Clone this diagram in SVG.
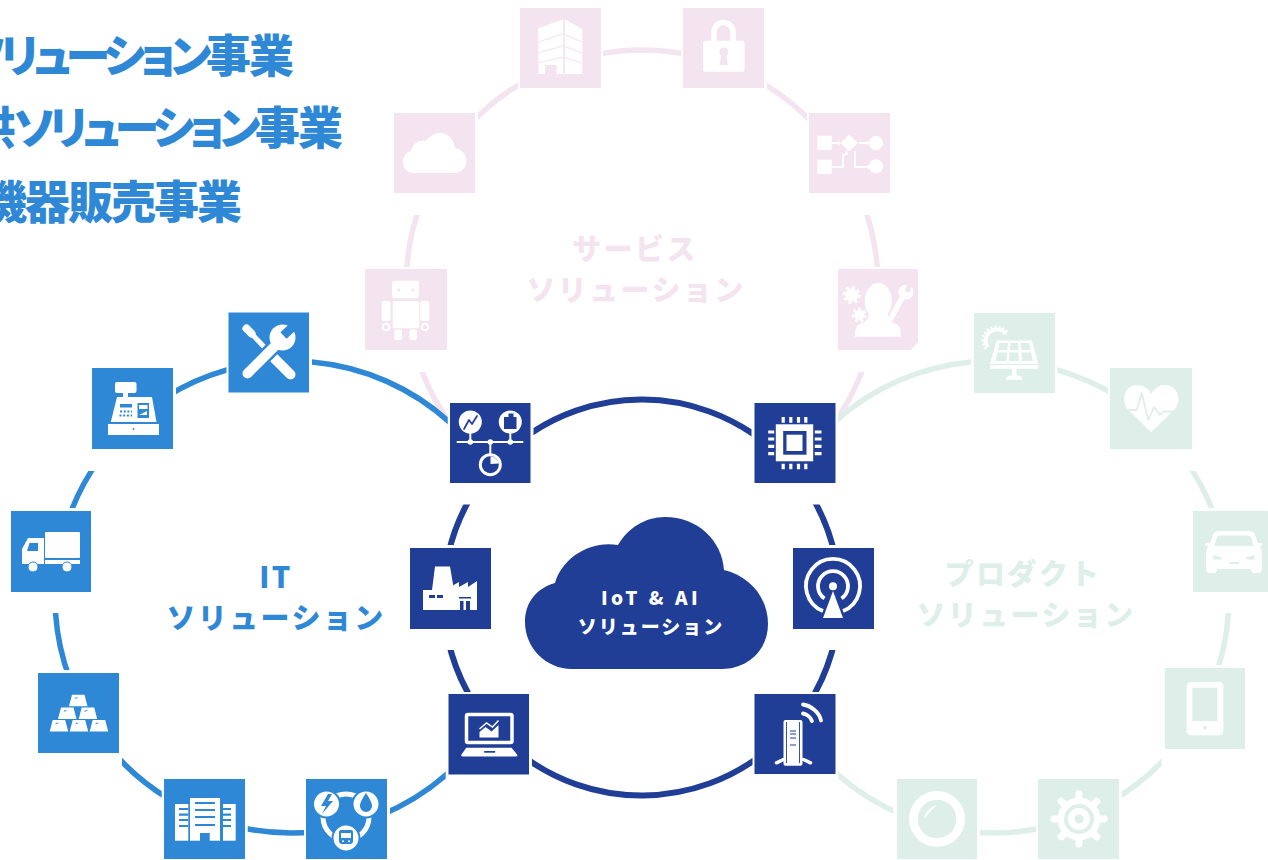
<svg xmlns="http://www.w3.org/2000/svg" width="1268" height="860" viewBox="0 0 1268 860">
<style>
text{font-family:"Noto Sans CJK JP","Noto Sans",sans-serif;font-weight:900}
.it{color:#2e88d6}.iot{color:#203e96}.svc{color:#f3e4f0}.prod{color:#deefe9}
.t,.c{fill:currentColor}.w{fill:#fff}
.ws{fill:none;stroke:#fff}.cs{fill:none;stroke:currentColor}
.rl{stroke-linecap:round;stroke-linejoin:round}
.ring{fill:none;stroke:currentColor;stroke-width:5.500}
.iot .ring{stroke-width:6}
.head{fill:#2e88d6;font-size:45px;font-feature-settings:"palt";text-anchor:end}
.lab{fill:currentColor;font-size:29px;text-anchor:middle;letter-spacing:2.400px}
.lab2{fill:#fff;font-size:19px;text-anchor:middle;letter-spacing:2px}
</style>
<defs>
<clipPath id="clip-svc">
<rect x="395" y="215" width="40" height="52"/><rect x="478" y="75" width="40" height="55"/><rect x="603" y="40" width="78" height="30"/><rect x="767" y="75" width="40" height="55"/><rect x="850" y="215" width="40" height="52"/><rect x="838" y="372" width="45" height="48"/><rect x="405" y="372" width="42.700" height="60"/>
</clipPath>
<clipPath id="clip-prod">
<rect x="838" y="355" width="133" height="70"/><rect x="1057.300" y="355" width="50.700" height="50"/><rect x="1175" y="471" width="50" height="37"/><rect x="1205" y="613" width="35" height="52"/><rect x="1121.700" y="750" width="40" height="55"/><rect x="980" y="815" width="56" height="25"/><rect x="838.300" y="760" width="55" height="60"/>
</clipPath>
<clipPath id="clip-it">
<rect x="312" y="350" width="135.700" height="85"/><rect x="176" y="360" width="50.500" height="40"/><rect x="60" y="471" width="45" height="37"/><rect x="45" y="613" width="35" height="57"/><rect x="122" y="750" width="39.700" height="52"/><rect x="247.700" y="815" width="56.300" height="25"/><rect x="390" y="765" width="55.700" height="55"/>
</clipPath>
<clipPath id="clip-iot">
<rect x="533.500" y="395" width="218" height="50"/><rect x="440" y="504.500" width="40" height="40.500"/><rect x="440" y="650" width="40" height="42"/><rect x="532" y="750" width="220.500" height="55"/><rect x="800" y="650" width="45" height="42"/><rect x="800" y="504.500" width="45" height="40.500"/>
</clipPath>
<g id="bar"><path class="w" d="M3 0H15.500L18.500 11.500H0Z"/><path class="c" d="M5.500 4.500L9.500 2.700H6.500Z"/></g>
<g id="tooth"><rect x="-3.500" y="-28.500" width="7" height="12" rx="3" class="w"/></g>
</defs>

<text class="head" x="292" y="73" letter-spacing="-2"><tspan letter-spacing="-5.500">ソリューション</tspan>事業</text>
<text class="head" x="341" y="145" letter-spacing="-2">提供<tspan letter-spacing="-5.500">ソリューション</tspan>事業</text>
<text class="head" x="240" y="219" letter-spacing="-2">機器販売事業</text>

<g id="connectors">
<g class="svc" clip-path="url(#clip-svc)">
<path class="ring" d="M406.300 275A236 236 0 0 1 420.300 205"/>
<path class="ring" d="M470 124.400A236 236 0 0 1 530 78.300"/>
<path class="ring" d="M595 54.700A236 236 0 0 1 690 54.900"/>
<path class="ring" d="M755 78.800A236 236 0 0 1 815 125.500"/>
<path class="ring" d="M863.700 205A236 236 0 0 1 877.700 275"/>
<path class="ring" d="M864.400 365A236 236 0 0 1 829 430"/>
<path class="ring" d="M455 430A236 236 0 0 1 419.600 365"/>
</g>
<g class="prod" clip-path="url(#clip-prod)">
<path class="ring" d="M825 431.300A236 236 0 0 1 985 361.100"/>
<path class="ring" d="M1045 366.800A236 236 0 0 1 1120 398.100"/>
<path class="ring" d="M1185.200 460A236 236 0 0 1 1216.100 520"/>
<path class="ring" d="M1229 600A236 236 0 0 1 1213.900 680"/>
<path class="ring" d="M1170 753.100A236 236 0 0 1 1110 802"/>
<path class="ring" d="M1045 827.200A236 236 0 0 1 970 831.900"/>
<path class="ring" d="M905 816A236 236 0 0 1 825 762.700"/>
</g>
<g class="it" clip-path="url(#clip-it)">
<path class="ring" d="M300 361.200A236 236 0 0 1 460 432.300"/>
<path class="ring" d="M165 397.500A236 236 0 0 1 240 366.600"/>
<path class="ring" d="M67.900 520A236 236 0 0 1 98.800 460"/>
<path class="ring" d="M70.100 680A236 236 0 0 1 55 600"/>
<path class="ring" d="M115 754.200A236 236 0 0 0 170 799.600"/>
<path class="ring" d="M240 827.400A236 236 0 0 0 315 831.800"/>
<path class="ring" d="M380 815.600A236 236 0 0 0 455 766.700"/>
</g>
<g class="iot" clip-path="url(#clip-iot)">
<path class="ring" d="M520 441.200A198 198 0 0 1 765 442.700"/>
<path class="ring" d="M472.100 495A198 198 0 0 0 448.100 555"/>
<path class="ring" d="M448.100 640A198 198 0 0 0 472.100 700"/>
<path class="ring" d="M520 753.800A198 198 0 0 0 765 752.300"/>
<path class="ring" d="M810.900 700A198 198 0 0 0 834.900 640"/>
<path class="ring" d="M834.900 555A198 198 0 0 0 810.900 495"/>
</g>
</g>

<g id="label-service" class="svc"><text class="lab" x="635" y="260">サービス</text><text class="lab" x="636" y="301">ソリューション</text></g>
<g id="label-product" class="prod"><text class="lab" x="1023" y="585">プロダクト</text><text class="lab" x="1026" y="626">ソリューション</text></g>
<g id="label-it" class="it"><text class="lab" x="276" y="588">IT</text><text class="lab" x="276" y="629">ソリューション</text></g>

<g id="cloud-center" class="iot">
<path class="c" d="M572 669C546 669 525 648 525 622C525 602 537 588 555 583C562 558 590 540 618 545C628 528 645 517 665 517C697 517 722 540 724 570C750 576 768 598 768 624C768 650 748 669 722 669Z"/>
<text class="lab2" x="651" y="605" style="letter-spacing:3.500px">IoT &amp; AI</text><text class="lab2" x="651" y="634">ソリューション</text>
</g>

<!-- Service -->
<g id="svc-building" class="svc" transform="translate(520 8)"><rect class="t" width="81" height="80"/>
<path class="w" d="M18.300 20.300L43.300 11.300V66H18.300ZM45 11.300L62.300 21.300V66H45Z"/>
<path class="cs" stroke-width="1.200" d="M18 34L43.300 26L62 34M18 45L43.300 38L62 45M18 55L43.300 49L62 55"/><rect class="c" x="25" y="57" width="11.700" height="9"/></g>
<g id="svc-lock" class="svc" transform="translate(683 8)"><rect class="t" width="81" height="80"/>
<path class="ws" stroke-width="5.500" d="M31 33V24A9.500 9.500 0 0 1 50 24V33"/><rect class="w" x="20" y="32.700" width="41.500" height="31" rx="2"/>
<circle class="c" cx="40.700" cy="44" r="4.500"/><path class="c" d="M38.500 46H43L45 57H36.500Z"/></g>
<g id="svc-flow" class="svc" transform="translate(809 113)"><rect class="t" width="81" height="80"/>
<path class="w" d="M8.300 22.700H22.700V37H8.300ZM8.300 46.700H22.700V61H8.300ZM40.300 21.500L49 30L40.300 38.500L31.800 30Z"/><circle class="w" cx="67" cy="30" r="7"/><circle class="w" cx="67" cy="53.300" r="7"/>
<path class="ws" stroke-width="1.800" d="M22 30H29M50 30H58M22 54H34V42H36.500M46 38V54H59"/><path class="w" d="M29 27.500L32 30L29 32.500ZM57.500 27.500L60.500 30L57.500 32.500ZM58.500 51.500L61 54L58.500 56.500ZM35 41L38 37L39 42Z"/></g>
<g id="svc-support" class="svc" transform="translate(838 269)"><path class="t" d="M0 0H80V73L73 81H0Z"/>
<ellipse class="w" cx="40.300" cy="32" rx="13.500" ry="18"/><path class="w" d="M31 44H50C50 52 54 53 58 55C62 57 63 60 63 67.700H17C17 60 18 57 22 55C26 53 31 52 31 44Z"/>
<circle class="w" cx="13.700" cy="26" r="6.500"/><circle class="ws" cx="13.700" cy="26" r="7.500" stroke-width="3" stroke-dasharray="3 2.900"/>
<circle class="w" cx="21.300" cy="46" r="5"/><circle class="ws" cx="21.300" cy="46" r="6" stroke-width="3" stroke-dasharray="2.800 2.500"/>
<path class="ws" stroke-width="5.500" d="M52 51L65 27"/><circle class="w" cx="68" cy="23" r="7.500"/><path class="cs" stroke-width="5" d="M69 23L73 13"/></g>
<g id="svc-cloud" class="svc" transform="translate(394 113)"><rect class="t" width="81" height="80"/>
<path class="w" d="M20 60C12 60 9 54 9 49C9 43 13 39 17 38C19 30 26 26 32 28C36 22 42 20 46 20C55 20 60 27 61 35C68 36 72.300 42 72.300 48C72.300 55 67 60 60 60Z"/></g>
<g id="svc-robot" class="svc" transform="translate(365 269)"><rect class="t" width="82" height="81"/>
<rect class="w" x="27" y="11.700" width="27" height="17.600" rx="2.500"/><circle class="c" cx="33.700" cy="21" r="1.500"/><circle class="c" cx="48" cy="21" r="1.500"/>
<rect class="w" x="27.700" y="32" width="26.600" height="27.300" rx="2"/><rect class="w" x="16.700" y="32" width="8.700" height="20" rx="2"/><rect class="w" x="55.300" y="32" width="9" height="20" rx="2"/>
<circle class="ws" cx="21" cy="58" r="3.300" stroke-width="2"/><circle class="ws" cx="60" cy="58" r="3.300" stroke-width="2"/>
<rect class="w" x="29.300" y="60.500" width="7.700" height="10.500" rx="2"/><rect class="w" x="44.300" y="60.500" width="7.700" height="10.500" rx="2"/></g>

<!-- Product -->
<g id="prod-solar" class="prod" transform="translate(974 313)"><rect class="t" width="81" height="80"/>
<path class="ws" stroke-width="3.500" d="M32 21A9.500 9.500 0 1 0 14 34"/><path class="ws" stroke-width="3" stroke-dasharray="2 2" d="M33 19A12.500 12.500 0 1 0 12 36"/>
<path class="cs" stroke-width="2" d="M22 27.500L15 50"/>
<path class="w" d="M22.700 27.500H57.700L64.300 50.700H16ZM16 52H64.300V55.700H16ZM38 55H42.500V63H38ZM32 66.700C32 63 36 62 40 62C44.500 62 48.300 63 48.300 66.700Z"/>
<path class="c" d="M25.500 30H34L33.300 37H24ZM36.500 30H44L44.500 37H36ZM46.500 30H55L56.500 37H47.500ZM23.500 39.500H33L32.500 48H21.500ZM35.500 39.500H44.500L45 48H35ZM47.500 39.500H57L59 48H48Z"/></g>
<g id="prod-heart" class="prod" transform="translate(1110 368)"><rect class="t" width="82" height="81"/>
<path class="w" d="M41.300 64.300L17.500 41C11 33 14 17 27.300 17C34 17 39 21 41.300 26C43.600 21 49 17 55 17C68 17 72 33 65 41Z"/>
<path class="cs rl" stroke-width="1.800" d="M12 42H26.700L31.700 25L38.300 52L44 39L50 47L53.300 43.500H71"/></g>
<g id="prod-car" class="prod" transform="translate(1193 511)"><rect class="t" width="80" height="81"/>
<path class="w" d="M26 20H56C59 20 61 21 62.500 25L65 32H68.500C70 32 70 35 68.500 35H66.500C68.500 38 69 40 69 44V56C69 59 68 62 66 62H61C59 62 58 60 58 58H24C24 60 23 62 21 62H16C14 62 13 59 13 56V44C13 40 13.500 38 15.500 35H13.500C12 35 12 32 13.500 32H17L19.500 25C21 21 23 20 26 20Z"/>
<path class="c" d="M27 24.500H55C57 24.500 58 26 58.500 27.500L60.500 35H21.500L23.500 27.500C24 26 25 24.500 27 24.500ZM20 44L29 46.500L28 48.500H21ZM62 44L53 46.500L54 48.500H61ZM36 51H46V53H36Z"/></g>
<g id="prod-tablet" class="prod" transform="translate(1165 668)"><rect class="t" width="80" height="81"/>
<rect class="w" x="21.700" y="14" width="36.600" height="53.300" rx="4"/><rect class="c" x="27.300" y="19.700" width="25" height="33.300"/><circle class="c" cx="40" cy="59.700" r="2"/></g>
<g id="prod-gear" class="prod" transform="translate(1038 779)"><rect class="t" width="81" height="80"/>
<g transform="translate(41 40)"><use href="#tooth"/><use href="#tooth" transform="rotate(45)"/><use href="#tooth" transform="rotate(90)"/><use href="#tooth" transform="rotate(135)"/><use href="#tooth" transform="rotate(180)"/><use href="#tooth" transform="rotate(225)"/><use href="#tooth" transform="rotate(270)"/><use href="#tooth" transform="rotate(315)"/>
<circle class="w" r="21.500"/><circle class="c" r="15"/><circle class="w" r="11"/><circle class="c" r="4.500"/></g></g>
<g id="prod-lens" class="prod" transform="translate(897 779)"><rect class="t" width="80" height="80"/>
<circle class="w" cx="40" cy="40" r="28"/><circle class="c" cx="40" cy="40" r="19.300"/><path class="w" d="M27 40C28 33 33 28 40 26C35 30 31 35 27 40Z"/></g>

<!-- IT -->
<g id="it-tools" class="it" transform="translate(228.500 312.500)"><rect class="t" width="80.500" height="80"/>
<path class="ws" stroke-width="5" d="M18 16L42 41"/><path class="ws rl" stroke-width="8" d="M18 16L23 21"/><path class="ws rl" stroke-width="10" d="M44 44L62 62"/>
<path class="cs" stroke-width="15" d="M19 61L47 33"/><path class="ws rl" stroke-width="10" d="M19 61L47 33"/><circle class="w" cx="54" cy="25" r="13"/><path class="cs" stroke-width="9" d="M55 23L68 11"/></g>
<g id="it-register" class="it" transform="translate(92 368)"><rect class="t" width="81" height="81"/>
<rect class="w" x="23" y="14" width="21.500" height="11" rx="2"/><rect class="w" x="31" y="24" width="5" height="6"/>
<path class="w" d="M25 29H60L64.500 54H18.800ZM16 56H67V67H16Z"/><rect class="c" x="28" y="36" width="12" height="3.500"/><rect class="c" x="45.500" y="35" width="11.500" height="15"/><path class="w" d="M47 37H55.500V41H47ZM47 47L55 43V47Z"/>
<path class="cs" stroke-width="2" stroke-dasharray="2 1.700" d="M28 43.500H40M27.500 47.500H40"/><circle class="c" cx="41.500" cy="61" r="0.900"/></g>
<g id="it-truck" class="it" transform="translate(11 511)"><rect class="t" width="80" height="81"/>
<rect class="w" x="34" y="21" width="35" height="26" rx="1"/><rect class="w" x="34" y="49" width="35" height="4"/>
<path class="w" d="M17 27H33V53H11V38Z"/><path class="c" d="M18.500 32H27V40H16Z"/>
<circle class="w" cx="22" cy="56" r="5" stroke="currentColor" stroke-width="1"/><circle class="w" cx="56" cy="56" r="5" stroke="currentColor" stroke-width="1"/></g>
<g id="it-gold" class="it" transform="translate(38 673)"><rect class="t" width="81" height="80"/>
<use href="#bar" x="31" y="21.700"/><use href="#bar" x="20" y="34.500"/><use href="#bar" x="40.700" y="34.500"/><use href="#bar" x="11.700" y="47"/><use href="#bar" x="31.700" y="47"/><use href="#bar" x="51.700" y="47"/></g>
<g id="it-building" class="it" transform="translate(164 779)"><rect class="t" width="81" height="80"/>
<rect class="w" x="26" y="19" width="30" height="42.700"/><rect class="w" x="11" y="25" width="13.300" height="36.700"/><rect class="w" x="59" y="25" width="12.700" height="36.700"/>
<path class="cs" stroke-width="2.200" d="M31 24H51M31 31H51M31 38H51M31 46H51M15 30H24.300M15 35.700H24.300M15 41H24.300M15 47H24.300M59 30H67M59 35.700H67M59 41H67M59 47H67"/><rect class="c" x="36" y="54" width="9.700" height="8"/></g>
<g id="it-energy" class="it" transform="translate(306 779)"><rect class="t" width="81" height="80"/>
<circle class="ws" cx="40" cy="38" r="23" stroke-width="5"/>
<circle class="w" cx="20.500" cy="25" r="13.500" stroke="currentColor" stroke-width="2"/><circle class="w" cx="60" cy="25" r="13.500" stroke="currentColor" stroke-width="2"/><circle class="w" cx="40" cy="59" r="13.500" stroke="currentColor" stroke-width="2"/>
<path class="c" d="M22 15L15 27H20L16 35L27 22H22L26 15Z"/><path class="c" d="M60 14C57 19 54 23 54 27C54 30 57 33 60 33C63 33 66 30 66 27C66 23 63 19 60 14Z"/>
<path class="c" d="M35 51H45C46.500 51 47 52 47 53.500V62C47 64 46 65 44 65H36C34 65 33 64 33 62V53.500C33 52 33.500 51 35 51Z"/><path class="w" d="M35 54H45V59H35ZM36 61.500H38V63H36ZM42 61.500H44V63H42Z"/></g>

<!-- IoT -->
<g id="iot-net" class="iot" transform="translate(450 403)"><rect class="t" width="80.500" height="80"/>
<path class="ws" stroke-width="2" d="M6.700 39H73.300M20.300 19V39M60.300 19V39M40.300 39V62"/><circle class="w" cx="20.300" cy="39" r="2.800"/><circle class="w" cx="40.300" cy="39" r="2.800"/><circle class="w" cx="60.300" cy="39" r="2.800"/>
<circle class="w" cx="20.300" cy="19" r="11.500"/><circle class="w" cx="60.300" cy="19" r="11.500"/><circle class="w" cx="40.300" cy="61.700" r="11.500"/>
<path class="cs rl" stroke-width="1.700" d="M14 26L19 17L22 21L27 13"/><path class="c" d="M54 14H58.500V10.500H63.500V14H66.500V26H54Z"/>
<circle class="c" cx="40.300" cy="61.700" r="8.500"/><path class="w" d="M40.500 61V53.500A8 8 0 0 1 48.500 60.500Z"/></g>
<g id="iot-factory" class="iot" transform="translate(410 548)"><rect class="t" width="81" height="81"/>
<path class="w" d="M25 18.500H40L44 42H35L49 34V39L58 34V39L67 33V62H13V42H22Z"/>
<path class="c" d="M19 47H25V50H19ZM27 47H33V50H27ZM49 49H61V50.500H49ZM50 53H53.500V62H50ZM56 53H60V62H56Z"/></g>
<g id="iot-laptop" class="iot" transform="translate(448.500 694)"><rect class="t" width="80.500" height="80.500"/>
<rect class="ws" x="18" y="20.500" width="45.500" height="28" rx="1.500" stroke-width="3.500"/>
<path class="w" d="M31 38L37 33L43 37.500L50 31V43.500H31ZM12.700 61L17.700 53.700H63L69 61C69 62 68 62.500 67 62.500H15C13.500 62.500 12.700 62 12.700 61Z"/><path class="ws" stroke-width="1.500" d="M31 35L38 29L44 33L50 26.500"/><rect class="c" x="35.700" y="57" width="11" height="1.700"/></g>
<g id="iot-chip" class="iot" transform="translate(754.500 403)"><rect class="t" width="81" height="80"/>
<rect class="w" x="21.300" y="21.300" width="37.400" height="37"/><rect class="c" x="28.700" y="28" width="23.300" height="23.700"/><rect class="w" x="32" y="31.700" width="16" height="16.300"/>
<path class="ws" stroke-width="3.200" d="M28.700 14V19.700M36.300 14V19.700M44 14V19.700M51.300 14V19.700M28.700 60.700V66.300M36.300 60.700V66.300M44 60.700V66.300M51.300 60.700V66.300M13.700 29H19.700M13.700 36H19.700M13.700 43.300H19.700M13.700 50.700H19.700M60.300 29H67M60.300 36H67M60.300 43.300H67M60.300 50.700H67"/></g>
<g id="iot-antenna" class="iot" transform="translate(793 548)"><rect class="t" width="81" height="81"/>
<path class="ws" stroke-width="3.800" d="M30 63A27 27 0 1 1 50 63M31.500 50.500A15 15 0 1 1 48.500 50.500"/><circle class="w" cx="40" cy="38.300" r="4"/><path class="w" d="M40 43L30 70H50Z"/></g>
<g id="iot-router" class="iot" transform="translate(754.500 694)"><rect class="t" width="81" height="80"/>
<rect class="w" x="29" y="26" width="19" height="45.700" rx="2"/><path class="cs" stroke-width="0.900" d="M32 28V69M45 28V69"/><path class="cs" stroke-width="1" d="M35.500 37H41.500M35.500 40H41.500M35.500 44H41.500M35.500 51H41.500"/>
<path class="ws rl" stroke-width="3.800" d="M48.500 10.500C56 11.500 65 18 66.500 26.500M48.500 19.500C52 20 56 23 57.500 27"/>
<path class="ws rl" stroke-width="3.500" d="M22 68.800L29 65.500M49 65.500L56 68.800"/></g>
</svg>
